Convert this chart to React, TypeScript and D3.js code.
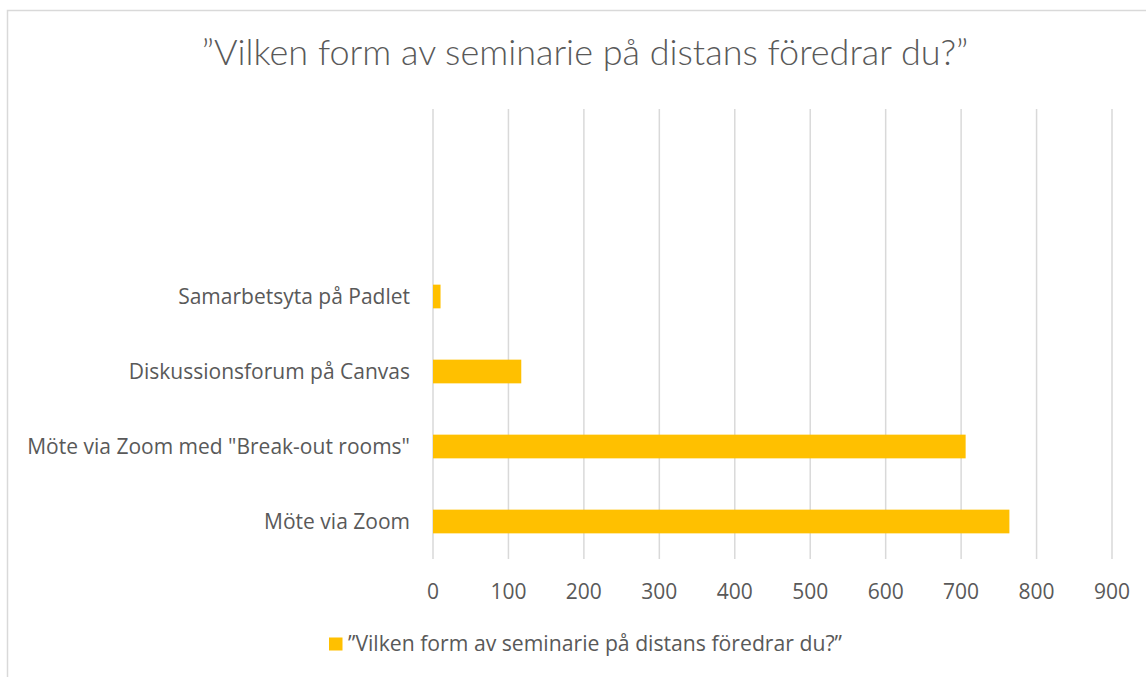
import React from 'react';
import * as d3 from 'd3';

// data (bottom to top, Excel order) – the two top slots are empty rows
const categories = [
  'Möte via Zoom',
  'Möte via Zoom med "Break-out rooms"',
  'Diskussionsforum på Canvas',
  'Samarbetsyta på Padlet',
  '',
  '',
];
const values: (number | null)[] = [764, 706, 117, 10, null, null];
const ticks = [0, 100, 200, 300, 400, 500, 600, 700, 800, 900];
const title = '”Vilken form av seminarie på distans föredrar du?”';
const seriesName = '”Vilken form av seminarie på distans föredrar du?”';

const W = 1146;
const H = 677;
const TITLE_FONT = "Lato, 'Open Sans', sans-serif";
const FONT = "'Open Sans', Lato, sans-serif";
const TEXT = '#595959';
const GRID = '#d9d9d9';
const BAR = '#ffc000';

const App: React.FC = () => {
  const x = d3.scaleLinear().domain([0, 900]).range([433, 1112]);
  const y = d3
    .scaleBand<number>()
    .domain(categories.map((_, i) => i))
    .range([559, 109])
    .paddingInner(0.684)
    .paddingOuter(0.342);

  return (
    <svg
      width={W}
      height={H}
      viewBox={`0 0 ${W} ${H}`}
      style={{ position: 'absolute', left: 0, top: 0, background: '#fff' }}
      fontFamily={FONT}
    >
      {/* chart area border (runs off the right / bottom) */}
      <rect x={7.5} y={10.5} width={1200} height={700} fill="#fff" stroke={GRID} strokeWidth={1.5} />

      <text x={585} y={65} textAnchor="middle" fontSize={36} fill={TEXT} fontWeight={300} fontFamily={TITLE_FONT}>
        {title}
      </text>

      {/* gridlines */}
      {ticks.map((t) => (
        <line key={t} x1={x(t)} x2={x(t)} y1={y.range()[1]} y2={y.range()[0]} stroke={GRID} strokeWidth={1.5} />
      ))}

      {/* bars */}
      {values.map((v, i) =>
        v == null ? null : (
          <rect key={i} x={x(0)} y={y(i)} width={x(v) - x(0)} height={y.bandwidth()} fill={BAR} />
        )
      )}

      {/* category labels */}
      {categories.map((c, i) => (
        <text
          key={i}
          x={410}
          y={(y(i) as number) + y.bandwidth() / 2}
          dy="0.36em"
          textAnchor="end"
          fontSize={21}
          fill={TEXT}
        >
          {c}
        </text>
      ))}

      {/* tick labels */}
      {ticks.map((t) => (
        <text key={t} x={x(t)} y={599} textAnchor="middle" fontSize={21} fill={TEXT}>
          {t}
        </text>
      ))}

      {/* legend */}
      <rect x={329} y={637.5} width={13.5} height={13} fill={BAR} />
      <text x={348} y={651} fontSize={21.2} fill={TEXT}>
        {seriesName}
      </text>
    </svg>
  );
};

export default App;
